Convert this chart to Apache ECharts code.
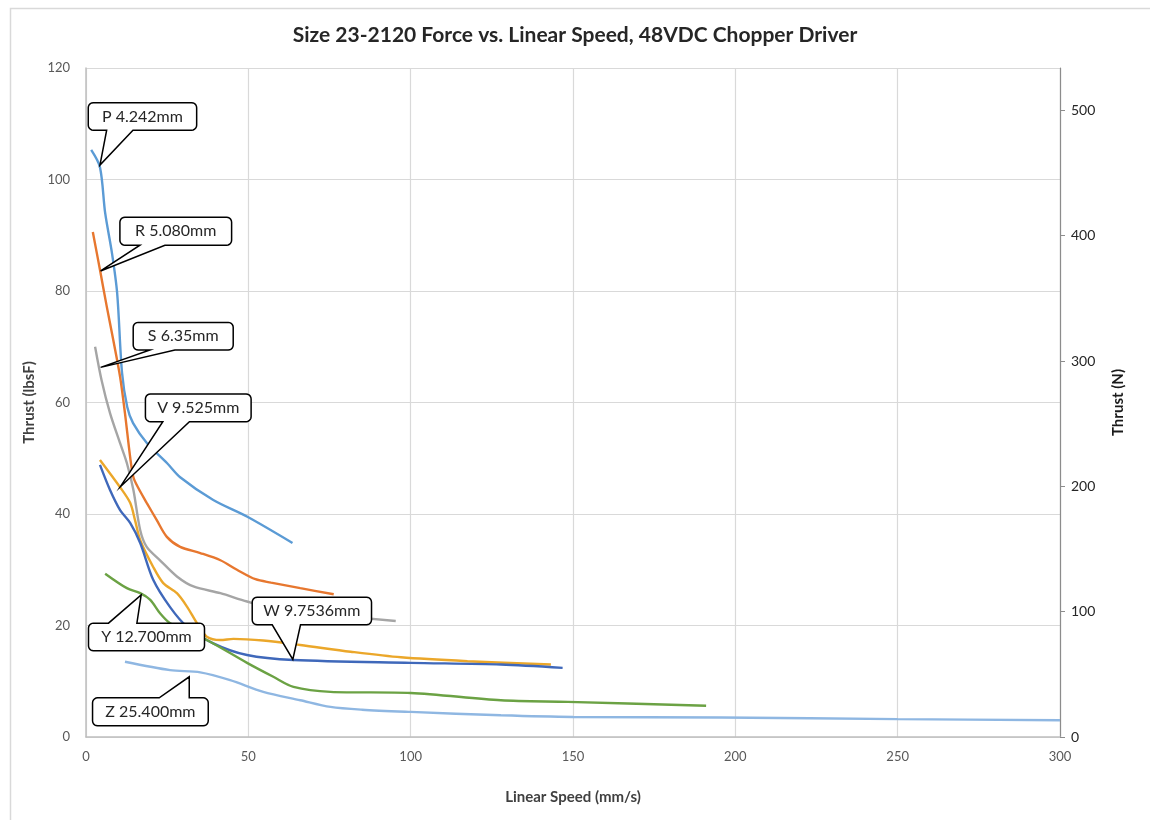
<!DOCTYPE html>
<html>
<head>
<meta charset="utf-8">
<script src="https://cdn.jsdelivr.net/npm/echarts@6/dist/echarts.min.js"></script>
<style>
html,body{margin:0;padding:0;background:#fff;}
#chart{width:1150px;height:820px;}
</style>
</head>
<body>
<div id="chart"></div>
<script>
// ---- data ----
const titleText = "Size 23-2120 Force vs. Linear Speed, 48VDC Chopper Driver";
const xAxisName = "Linear Speed (mm/s)";
const yLeftName = "Thrust (lbsF)";
const yRightName = "Thrust (N)";
const LBF_TO_N = 4.44822;

const pSpeed  = [1.6, 4.3, 5.9, 8.0, 9.6, 11.1, 12.7, 14.5, 18.8, 25.0, 29.0, 39.2, 49.7, 63.6];
const pThrust = [105.3, 102.2, 94.0, 86.8, 79.6, 65.3, 59.2, 56.3, 52.7, 49.1, 46.6, 42.5, 39.5, 34.8];

const rSpeed  = [2.1, 4.3, 6.4, 8.4, 10.5, 12.0, 13.6, 14.6, 16.0, 18.7, 21.8, 24.9, 29.0, 35.2, 41.4, 46.5, 52.2, 57.0, 66.0, 76.3];
const rThrust = [90.6, 83.8, 77.2, 71.2, 64.6, 58.1, 50.2, 46.6, 44.8, 42.0, 38.9, 35.9, 34.1, 33.0, 31.7, 30.0, 28.3, 27.7, 26.7, 25.6];

const sSpeed  = [2.8, 4.8, 7.4, 10.5, 12.6, 14.6, 16.7, 18.7, 22.8, 28.0, 33.1, 41.4, 49.6, 59.9, 75.3, 95.4];
const sThrust = [70.0, 64.0, 58.1, 52.7, 49.1, 44.3, 37.1, 34.1, 31.7, 28.8, 27.0, 25.8, 24.3, 22.8, 21.9, 20.8];

const vSpeed  = [4.3, 10.5, 13.6, 15.1, 16.7, 20.7, 23.8, 28.0, 31.1, 34.2, 37.2, 41.4, 45.4, 54.6, 66.0, 81.5, 97.0, 117.5, 143.2];
const vThrust = [49.7, 44.8, 42.0, 38.9, 35.3, 30.5, 27.6, 25.8, 23.4, 20.4, 18.0, 17.4, 17.6, 17.3, 16.5, 15.3, 14.3, 13.6, 13.0];

const wSpeed  = [4.3, 7.4, 10.5, 13.6, 16.7, 20.7, 25.9, 31.1, 39.2, 49.6, 63.9, 100.0, 127.8, 146.8];
const wThrust = [48.8, 44.3, 40.7, 38.4, 34.8, 28.2, 23.3, 19.8, 16.8, 14.7, 13.8, 13.3, 13.0, 12.4];

const ySpeed  = [5.9, 12.6, 16.7, 19.8, 22.8, 25.9, 31.1, 37.2, 49.6, 57.7, 63.9, 75.3, 100.0, 127.8, 148.4, 191.0];
const yThrust = [29.3, 26.7, 25.8, 24.6, 22.2, 20.4, 18.9, 17.4, 13.3, 10.8, 9.0, 8.1, 7.9, 6.6, 6.3, 5.6];

const zSpeed  = [12.0, 25.9, 35.2, 44.4, 54.6, 66.0, 75.3, 85.0, 100.0, 127.8, 150.0, 195.7, 250.0, 300.0];
const zThrust = [13.5, 12.0, 11.6, 10.2, 8.1, 6.6, 5.4, 4.9, 4.5, 3.9, 3.6, 3.5, 3.2, 3.0];

const seriesNames  = ["P 4.242mm", "R 5.080mm", "S 6.35mm", "V 9.525mm", "W 9.7536mm", "Y 12.700mm", "Z 25.400mm"];
const seriesSpeed  = [pSpeed, rSpeed, sSpeed, vSpeed, wSpeed, ySpeed, zSpeed];
const seriesThrust = [pThrust, rThrust, sThrust, vThrust, wThrust, yThrust, zThrust];

// callout anchor points (data coords on each curve)
const calloutAnchorSpeed  = [4.3, 4.5, 4.5, 10.6, 63.7, 17.0, 31.8];
const calloutAnchorThrust = [102.6, 83.6, 66.3, 44.9, 13.9, 25.5, 10.8];

// ---- styles ----
const colors = ["#5B9BD5", "#E7772F", "#A5A5A5", "#EBA72A", "#3F68BA", "#6BA244", "#8FB7E2"];
// callout box geometry relative to anchor (px)
const calloutGeom = [
  {dx:-11.7, dy:-62.3, w:108.4, h:27.5, side:"bottom", b1:6.7,  b2:33},
  {dx:19.3,  dy:-53.7, w:111.7, h:28,   side:"bottom", b1:39.3, b2:64.3},
  {dx:32.6,  dy:-45,   w:100,   h:27.7, side:"bottom", b1:49.3, b2:74.3},
  {dx:25,    dy:-92.7, w:105.7, h:27.7, side:"bottom", b1:42.4, b2:69},
  {dx:-40.6, dy:-62.3, w:119.3, h:27.6, side:"bottom", b1:-20.6, b2:7.7},
  {dx:-52.7, dy:28.3,  w:116,   h:27.7, side:"top",    b1:-32.7, b2:-4.3},
  {dx:-96.7, dy:21,    w:115.7, h:28,   side:"top",    b1:-30,  b2:0}
];

const FONT = "Lato, 'Open Sans', sans-serif";
const chart = echarts.init(document.getElementById('chart'), null, {renderer:'canvas'});

const series = seriesNames.map((n, i) => ({
  name: n,
  type: 'line',
  xAxisIndex: 0,
  yAxisIndex: 0,
  smooth: 0.3,
  showSymbol: false,
  symbol: 'none',
  lineStyle: {width: 2.4, color: colors[i]},
  itemStyle: {color: colors[i]},
  data: seriesSpeed[i].map((x, j) => [x, seriesThrust[i][j]]),
  z: 3
}));

chart.setOption({
  animation: false,
  backgroundColor: '#fff',
  title: {
    text: titleText, left: 'center', top: 20,
    textStyle: {fontFamily: FONT, fontSize: 21, fontWeight: 'bold', color: '#262626'}
  },
  grid: {left: 86, right: 90, top: 68, bottom: 83, containLabel: false},
  xAxis: {
    type: 'value', min: 0, max: 300, interval: 50,
    name: xAxisName, nameLocation: 'middle', nameGap: 53,
    nameTextStyle: {fontFamily: FONT, fontSize: 15, fontWeight: 'bold', color: '#404040'},
    axisLine: {show: true, lineStyle: {color: '#BFBFBF', width: 1.5}},
    axisTick: {show: false},
    axisLabel: {fontFamily: FONT, fontSize: 13, color: '#595959', margin: 13},
    splitLine: {show: true, lineStyle: {color: '#D9D9D9', width: 1.2}}
  },
  yAxis: [
    {
      type: 'value', min: 0, max: 120, interval: 20, position: 'left',
      name: yLeftName, nameLocation: 'middle', nameGap: 46, nameRotate: 90,
      nameTextStyle: {fontFamily: FONT, fontSize: 15, fontWeight: 'bold', color: '#404040'},
      axisLine: {show: true, lineStyle: {color: '#BFBFBF', width: 1.5}},
      axisTick: {show: false},
      axisLabel: {fontFamily: FONT, fontSize: 13, color: '#595959', margin: 16},
      splitLine: {show: true, lineStyle: {color: '#D9D9D9', width: 1.2}}
    },
    {
      type: 'value', min: 0, max: 120 * LBF_TO_N, interval: 100, position: 'right',
      name: yRightName, nameLocation: 'middle', nameGap: 51, nameRotate: 90,
      nameTextStyle: {fontFamily: FONT, fontSize: 15, fontWeight: 'bold', color: '#1a1a1a'},
      axisLine: {show: true, lineStyle: {color: '#8C8C8C', width: 1.2}},
      axisTick: {show: true, length: 5, lineStyle: {color: '#8C8C8C'}},
      axisLabel: {fontFamily: FONT, fontSize: 14, color: '#262626', margin: 11, showMaxLabel: false},
      splitLine: {show: false}
    }
  ],
  series: series
});

// rounded-rect callout outline with a pointer, as polygon points
function arcPts(cx, cy, r, a0, a1, out) {
  const n = 5;
  for (let k = 0; k <= n; k++) {
    const a = a0 + (a1 - a0) * k / n;
    out.push([cx + r * Math.cos(a), cy + r * Math.sin(a)]);
  }
}
function calloutPoints(x0, y0, w, h, r, side, b1x, b2x, tx, ty) {
  const x1 = x0 + w, y1 = y0 + h, pts = [];
  const PI = Math.PI;
  arcPts(x0 + r, y0 + r, r, PI, 1.5 * PI, pts);
  if (side === 'top') { pts.push([b1x, y0], [tx, ty], [b2x, y0]); }
  arcPts(x1 - r, y0 + r, r, 1.5 * PI, 2 * PI, pts);
  arcPts(x1 - r, y1 - r, r, 0, 0.5 * PI, pts);
  if (side === 'bottom') { pts.push([b2x, y1], [tx, ty], [b1x, y1]); }
  arcPts(x0 + r, y1 - r, r, 0.5 * PI, PI, pts);
  return pts;
}

const graphics = [{
  type: 'rect', left: 8, top: 6, silent: true, z: -10,
  shape: {x: 0, y: 0, width: 1300, height: 1000},
  style: {fill: 'none', stroke: '#D9D9D9', lineWidth: 1.5}
}];
seriesNames.forEach((n, i) => {
  const pt = chart.convertToPixel({xAxisIndex: 0, yAxisIndex: 0}, [calloutAnchorSpeed[i], calloutAnchorThrust[i]]);
  const g = calloutGeom[i];
  const x0 = pt[0] + g.dx, y0 = pt[1] + g.dy;
  graphics.push({
    type: 'polygon', z: 100, silent: true,
    shape: {points: calloutPoints(x0, y0, g.w, g.h, 5, g.side, pt[0] + g.b1, pt[0] + g.b2, pt[0], pt[1])},
    style: {fill: '#fff', stroke: '#000', lineWidth: 1.5, lineJoin: 'miter'}
  });
  graphics.push({
    type: 'text', z: 101, silent: true,
    x: x0 + g.w / 2, y: y0 + g.h / 2,
    style: {text: n, fill: '#262626', font: `16px ${FONT}`, align: 'center', verticalAlign: 'middle'}
  });
});
chart.setOption({graphic: graphics});
</script>
</body>
</html>
